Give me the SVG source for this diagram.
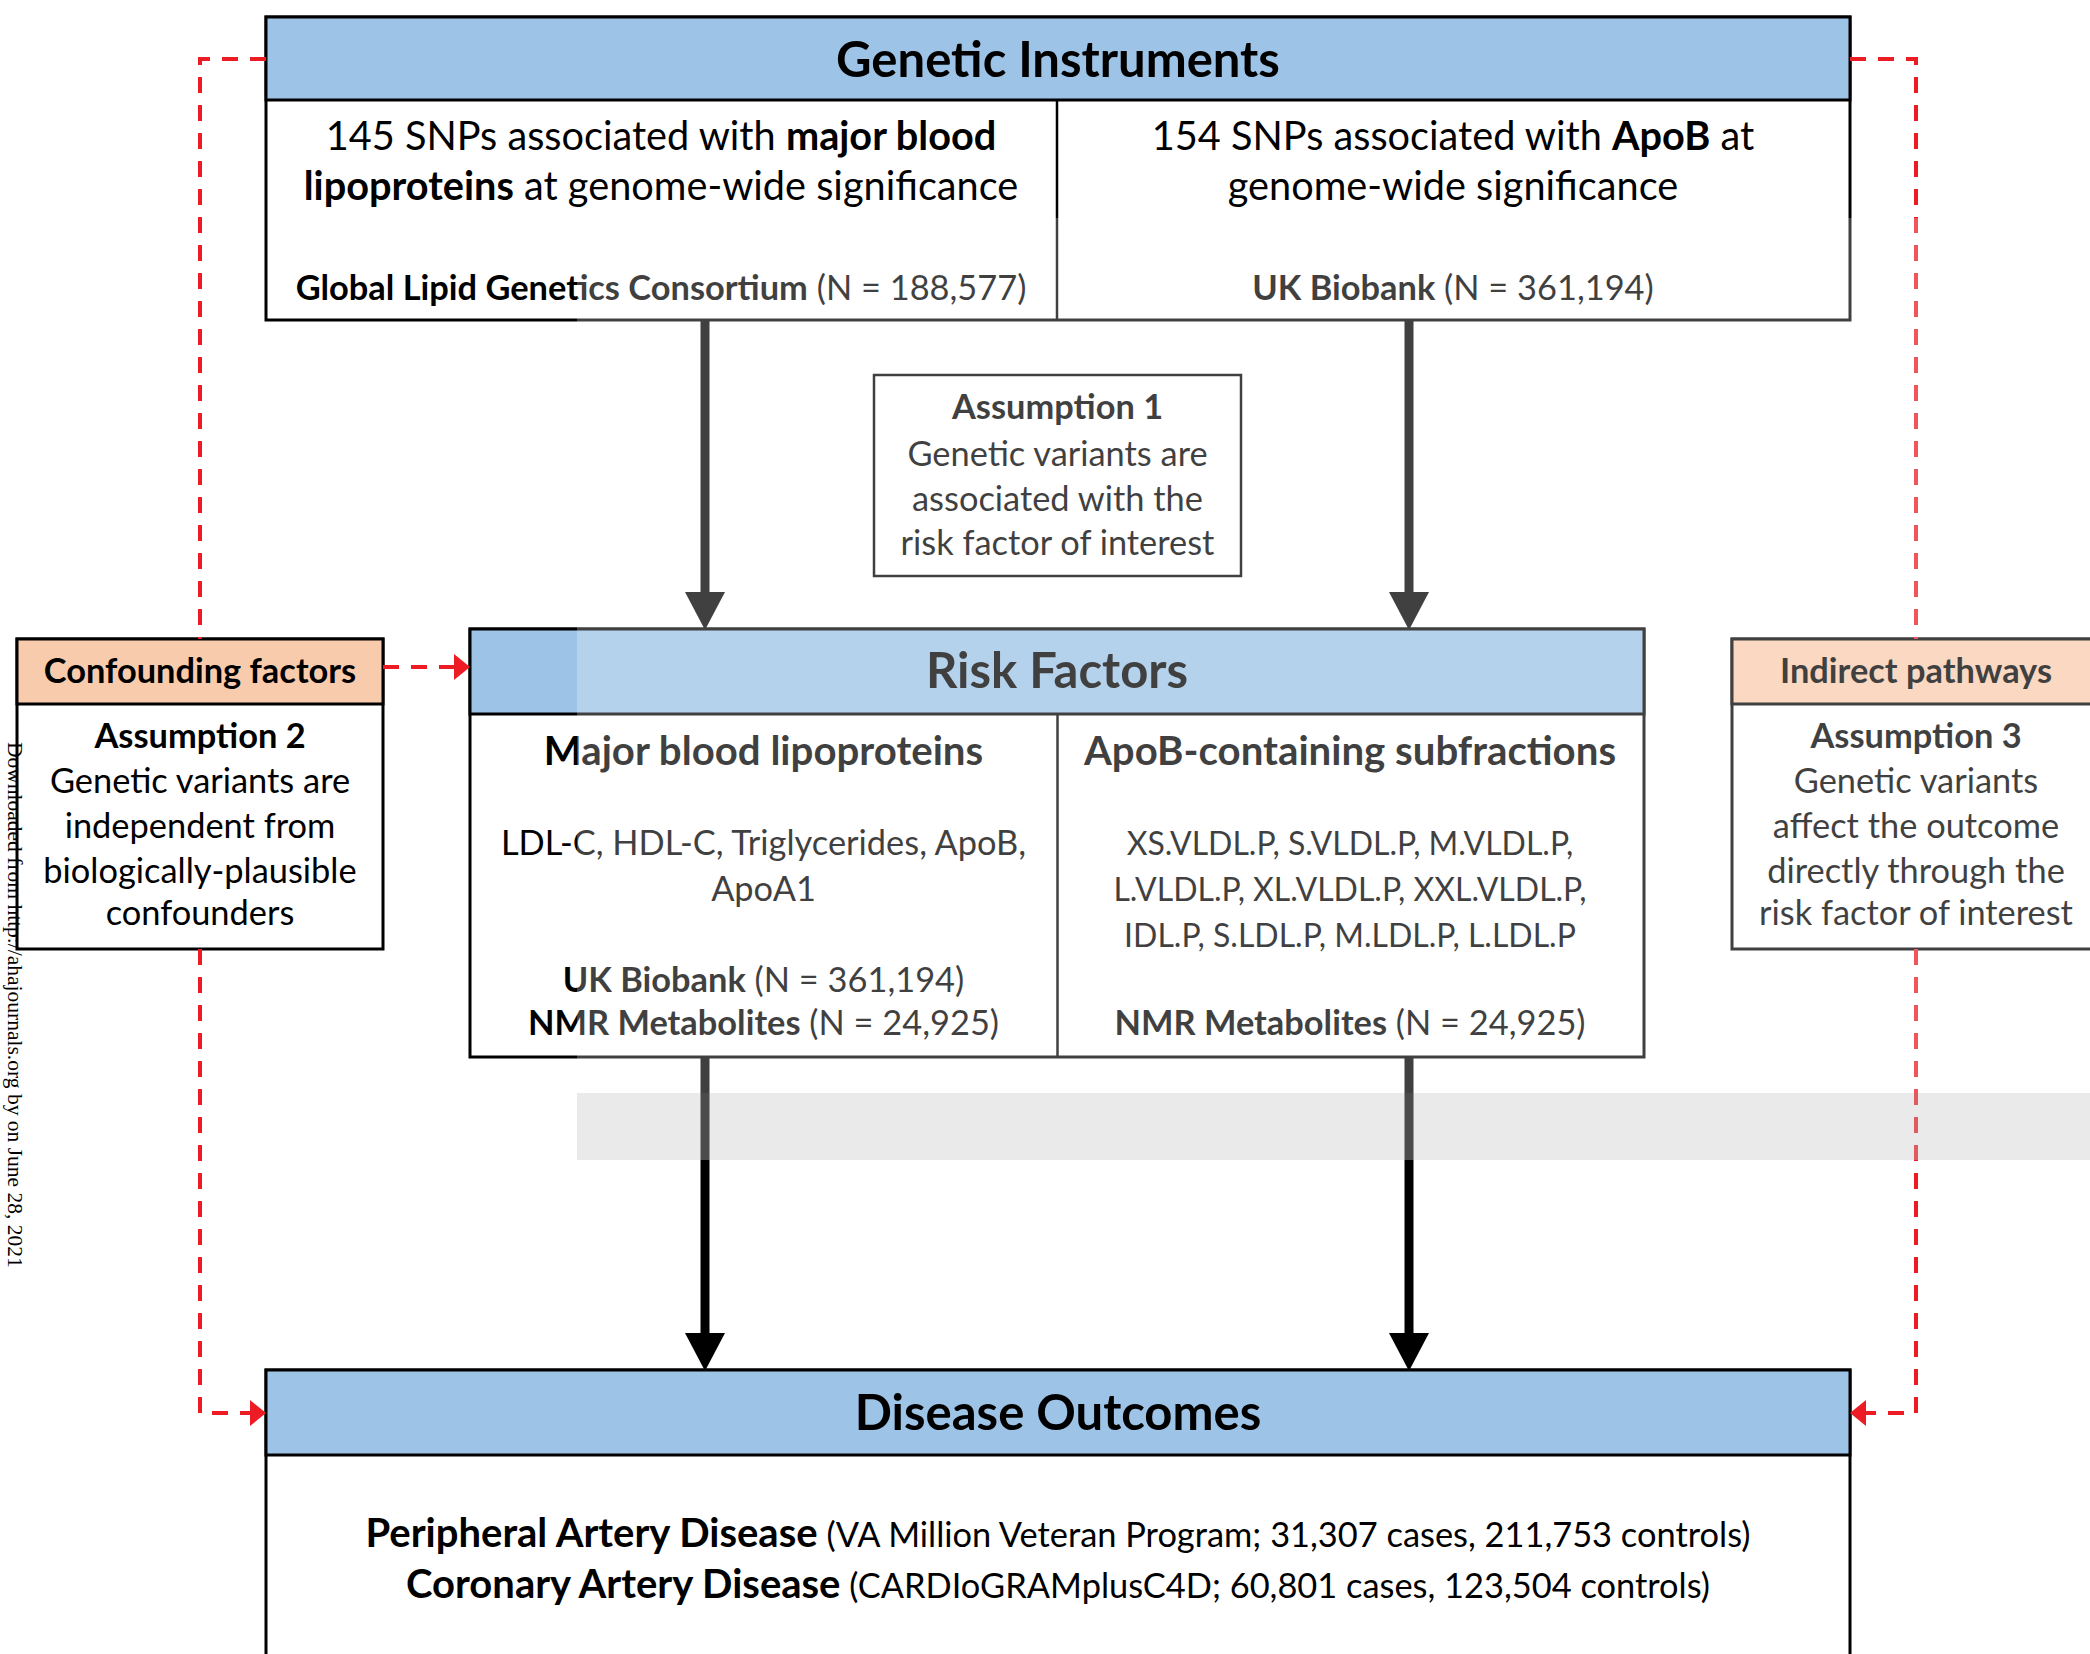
<svg xmlns="http://www.w3.org/2000/svg" width="2090" height="1654" viewBox="0 0 2090 1654">
<defs>
<style>
text{font-family:Lato,"Liberation Sans",sans-serif;fill:#000}
.box{fill:#fff;stroke:#000;stroke-width:3}
.hb{fill:#9DC3E6;stroke:#000;stroke-width:3}
.hp{fill:#F8CBAD;stroke:#000;stroke-width:3}
.div{stroke:#000;stroke-width:2.5}
.title{font-size:49px;font-weight:700;text-anchor:middle}
.big{font-size:39.7px;text-anchor:middle}
.mid{font-size:34.4px;text-anchor:middle}
.sm{font-size:32px;text-anchor:middle}
.colh{font-size:40.2px;font-weight:700;text-anchor:middle}
.ah{font-size:34.4px;font-weight:700;text-anchor:middle}
.b{font-weight:700}
.arr{stroke:#000;stroke-width:9;fill:none}
.red{stroke:#ED1C24;stroke-width:4;fill:none;stroke-dasharray:16 12}
</style>
<marker id="tri" markerUnits="userSpaceOnUse" viewBox="0 0 38 40" markerWidth="38" markerHeight="40" refX="0" refY="20" orient="auto">
<path d="M0,0 L38,20 L0,40 z" fill="#000"/>
</marker>
<marker id="redtri" markerUnits="userSpaceOnUse" viewBox="0 0 16 26" markerWidth="16" markerHeight="26" refX="0" refY="13" orient="auto">
<path d="M0,0 L16,13 L0,26 z" fill="#ED1C24"/>
</marker>
</defs>
<rect x="0" y="0" width="2090" height="1654" fill="#fff"/>

<g id="genetic-instruments">
<rect class="box" x="266" y="17" width="1584" height="303"/>
<rect class="hb" x="266" y="17" width="1584" height="83"/>
<line class="div" x1="1057" y1="100" x2="1057" y2="320"/>
<text class="title" x="1058" y="77">Genetic Instruments</text>
<text class="big" x="661" y="150">145 SNPs associated with <tspan class="b">major blood</tspan></text>
<text class="big" x="661" y="200"><tspan class="b">lipoproteins</tspan> at genome-wide significance</text>
<text class="mid" x="661" y="300"><tspan class="b">Global Lipid Genetics Consortium</tspan> (N = 188,577)</text>
<text class="big" x="1453" y="150">154 SNPs associated with <tspan class="b">ApoB</tspan> at</text>
<text class="big" x="1453" y="200">genome-wide significance</text>
<text class="mid" x="1453" y="300"><tspan class="b">UK Biobank</tspan> (N = 361,194)</text>
</g>

<g id="assumption-1">
<rect x="874" y="375" width="367" height="201" fill="#fff" stroke="#000" stroke-width="2.5"/>
<text class="ah" x="1057.5" y="419">Assumption 1</text>
<text class="mid" x="1057.5" y="466">Genetic variants are</text>
<text class="mid" x="1057.5" y="511">associated with the</text>
<text class="mid" x="1057.5" y="555">risk factor of interest</text>
</g>

<g id="confounding-factors">
<rect class="box" x="17" y="639" width="366" height="310"/>
<rect class="hp" x="17" y="639" width="366" height="65"/>
<text class="ah" x="200" y="683">Confounding factors</text>
<text class="ah" x="200" y="748">Assumption 2</text>
<text class="mid" x="200" y="793">Genetic variants are</text>
<text class="mid" x="200" y="838">independent from</text>
<text class="mid" x="200" y="883">biologically-plausible</text>
<text class="mid" x="200" y="925">confounders</text>
</g>

<g id="indirect-pathways">
<rect class="box" x="1732" y="639" width="368" height="310"/>
<rect class="hp" x="1732" y="639" width="368" height="65"/>
<text class="ah" x="1916" y="683">Indirect pathways</text>
<text class="ah" x="1916" y="748">Assumption 3</text>
<text class="mid" x="1916" y="793">Genetic variants</text>
<text class="mid" x="1916" y="838">affect the outcome</text>
<text class="mid" x="1916" y="883">directly through the</text>
<text class="mid" x="1916" y="925">risk factor of interest</text>
</g>

<g id="risk-factors">
<rect class="box" x="470" y="629" width="1174" height="428"/>
<rect class="hb" x="470" y="629" width="1174" height="85"/>
<line class="div" x1="1057.5" y1="714" x2="1057.5" y2="1057"/>
<text class="title" x="1057" y="688">Risk Factors</text>
<text class="colh" x="763.5" y="765">Major blood lipoproteins</text>
<text class="mid" x="763.5" y="855">LDL-C, HDL-C, Triglycerides, ApoB,</text>
<text class="mid" x="763.5" y="901">ApoA1</text>
<text class="mid" x="763.5" y="992"><tspan class="b">UK Biobank</tspan> (N = 361,194)</text>
<text class="mid" x="763.5" y="1035"><tspan class="b">NMR Metabolites</tspan> (N = 24,925)</text>
<text class="colh" x="1350" y="765">ApoB-containing subfractions</text>
<text class="sm" x="1350" y="855">XS.VLDL.P, S.VLDL.P, M.VLDL.P,</text>
<text class="sm" x="1350" y="901">L.VLDL.P, XL.VLDL.P, XXL.VLDL.P,</text>
<text class="sm" x="1350" y="947">IDL.P, S.LDL.P, M.LDL.P, L.LDL.P</text>
<text class="mid" x="1350" y="1035"><tspan class="b">NMR Metabolites</tspan> (N = 24,925)</text>
</g>

<g id="disease-outcomes">
<rect class="box" x="266" y="1370" width="1584" height="300"/>
<rect class="hb" x="266" y="1370" width="1584" height="85"/>
<text class="title" x="1058" y="1430">Disease Outcomes</text>
<text class="mid" x="1058" y="1547"><tspan class="b" font-size="40">Peripheral Artery Disease</tspan> (VA Million Veteran Program; 31,307 cases, 211,753 controls)</text>
<text class="mid" x="1058" y="1598"><tspan class="b" font-size="40">Coronary Artery Disease</tspan> (CARDIoGRAMplusC4D; 60,801 cases, 123,504 controls)</text>
</g>

<g id="connectors">
<line class="arr" x1="705" y1="320" x2="705" y2="592" marker-end="url(#tri)"/>
<line class="arr" x1="1409" y1="320" x2="1409" y2="592" marker-end="url(#tri)"/>
<line class="arr" x1="705" y1="1057" x2="705" y2="1333" marker-end="url(#tri)"/>
<line class="arr" x1="1409" y1="1057" x2="1409" y2="1333" marker-end="url(#tri)"/>
<path class="red" d="M266,59 H200 V639"/>
<path class="red" d="M200,949 V1413 H250" marker-end="url(#redtri)"/>
<path class="red" d="M383,667 H454" marker-end="url(#redtri)"/>
<path class="red" d="M1850,59 H1916 V639"/>
<path class="red" d="M1916,949 V1413 H1866" marker-end="url(#redtri)"/>
</g>

<text transform="translate(8,742) rotate(90)" font-size="21.5" style="font-family:'Liberation Serif',serif">Downloaded from http://ahajournals.org by on June 28, 2021</text>

<g id="watermark">
<rect x="577" y="218" width="1513" height="942" fill="#fff" fill-opacity="0.25"/>
<rect x="577" y="1093" width="1513" height="67" fill="#808080" fill-opacity="0.17"/>
</g>
</svg>
